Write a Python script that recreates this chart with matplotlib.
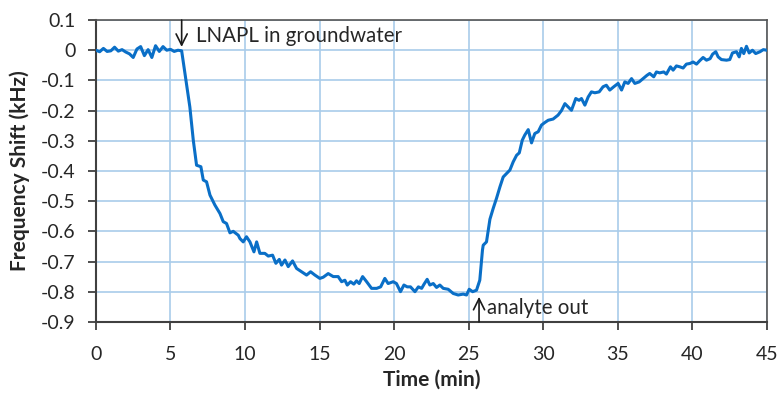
import matplotlib
matplotlib.use("Agg")
import matplotlib.pyplot as plt

# Frequency shift of the sensor over time (min, kHz)
time_min = [
    0.00, 0.25, 0.50, 0.75, 1.00, 1.25, 1.50, 1.75, 2.00, 2.25, 2.50, 2.75,
    3.00, 3.25, 3.50, 3.75, 4.00, 4.25, 4.50, 4.75, 5.00, 5.25, 5.50, 5.75,
    6.30, 6.53, 6.75, 7.04, 7.20, 7.42, 7.65, 7.98, 8.32, 8.54, 8.76, 8.99,
    9.21, 9.55, 9.66, 9.88, 10.10, 10.33, 10.60, 10.78, 11.00, 11.33, 11.56,
    11.85, 12.07, 12.30, 12.45, 12.68, 12.90, 13.19, 13.46, 13.80, 14.13,
    14.40, 14.69, 15.02, 15.25, 15.58, 15.92, 16.25, 16.48, 16.70, 16.86,
    17.08, 17.30, 17.48, 17.66, 17.89, 18.16, 18.49, 18.83, 19.10, 19.38,
    19.60, 19.94, 20.16, 20.43, 20.66, 20.88, 21.10, 21.40, 21.63, 21.85,
    22.00, 22.22, 22.40, 22.63, 22.85, 23.07, 23.30, 23.63, 23.97, 24.30,
    24.64, 24.86, 25.04, 25.27, 25.53, 25.75, 25.93, 25.98, 26.20, 26.43,
    26.65, 26.87, 27.10, 27.32, 27.54, 27.77, 27.99, 28.22, 28.40, 28.60,
    28.77, 29.00, 29.22, 29.44, 29.67, 29.89, 30.10, 30.34, 30.67, 31.00,
    31.23, 31.46, 31.68, 31.90, 32.19, 32.41, 32.57, 32.80, 33.02, 33.24,
    33.47, 33.76, 34.02, 34.24, 34.47, 34.74, 35.03, 35.26, 35.48, 35.70,
    35.93, 36.15, 36.44, 36.70, 36.97, 37.15, 37.42, 37.60, 37.82, 38.09,
    38.27, 38.54, 38.72, 38.94, 39.17, 39.39, 39.61, 39.84, 40.06, 40.29,
    40.50, 40.73, 40.96, 41.20, 41.37, 41.58, 41.74, 41.96, 42.30, 42.52,
    42.70, 42.97, 43.15, 43.30, 43.46, 43.64, 43.82, 44.04, 44.26, 44.55,
    44.77, 45.00,
]
freq_shift_khz = [
    0.000, -0.005, 0.006, -0.004, -0.002, 0.010, -0.003, 0.002, -0.006,
    -0.012, -0.024, 0.004, 0.012, -0.018, 0.002, -0.024, 0.015, -0.004,
    0.012, 0.000, 0.003, -0.004, 0.000, -0.002,
    -0.188, -0.298, -0.381, -0.386, -0.430, -0.436, -0.480, -0.513, -0.541,
    -0.568, -0.574, -0.605, -0.600, -0.613, -0.624, -0.635, -0.618, -0.635,
    -0.668, -0.635, -0.673, -0.673, -0.682, -0.679, -0.706, -0.693, -0.712,
    -0.695, -0.717, -0.698, -0.723, -0.734, -0.745, -0.734, -0.745, -0.756,
    -0.752, -0.740, -0.750, -0.750, -0.767, -0.762, -0.778, -0.767, -0.775,
    -0.764, -0.773, -0.750, -0.767, -0.789, -0.789, -0.784, -0.756, -0.773,
    -0.767, -0.773, -0.800, -0.778, -0.784, -0.784, -0.800, -0.784, -0.789,
    -0.776, -0.759, -0.778, -0.773, -0.786, -0.778, -0.789, -0.792, -0.806,
    -0.811, -0.808, -0.811, -0.792, -0.800, -0.795, -0.762, -0.662, -0.646,
    -0.635, -0.560, -0.524, -0.491, -0.453, -0.420, -0.409, -0.397, -0.370,
    -0.348, -0.340, -0.298, -0.281, -0.263, -0.307, -0.276, -0.270, -0.248,
    -0.240, -0.232, -0.228, -0.215, -0.200, -0.177, -0.188, -0.199, -0.160,
    -0.166, -0.160, -0.182, -0.155, -0.138, -0.141, -0.138, -0.121, -0.116,
    -0.132, -0.121, -0.110, -0.132, -0.105, -0.110, -0.094, -0.110, -0.105,
    -0.094, -0.083, -0.077, -0.088, -0.072, -0.075, -0.072, -0.079, -0.055,
    -0.066, -0.052, -0.055, -0.059, -0.046, -0.044, -0.039, -0.046, -0.035,
    -0.024, -0.033, -0.028, -0.013, -0.005, -0.022, -0.031, -0.033, -0.031,
    -0.009, -0.005, -0.022, 0.006, -0.011, 0.013, -0.009, 0.000, -0.011,
    -0.005, 0.002, 0.000,
]

x_ticks = [0, 5, 10, 15, 20, 25, 30, 35, 40, 45]
y_ticks = [0.1, 0, -0.1, -0.2, -0.3, -0.4, -0.5, -0.6, -0.7, -0.8, -0.9]
y_tick_labels = ["0.1", "0", "-0.1", "-0.2", "-0.3", "-0.4", "-0.5",
                 "-0.6", "-0.7", "-0.8", "-0.9"]

plt.rcParams["font.family"] = ["Lato", "DejaVu Sans"]
text_color = "#262626"

fig = plt.figure(figsize=(7.8, 3.93), dpi=100)
ax = fig.add_axes([0.123, 0.181, 0.860, 0.768])

ax.plot(time_min, freq_shift_khz, color="#0A6FC7", lw=2.2, zorder=3)

ax.set_xlim(0, 45)
ax.set_ylim(-0.9, 0.1)
ax.set_xticks(x_ticks)
ax.set_yticks(y_ticks)
ax.set_yticklabels(y_tick_labels)
ax.grid(True, color="#A9CCEA", lw=1.2, zorder=0)
ax.set_axisbelow(True)

for side in ["left", "bottom"]:
    ax.spines[side].set_color("#404040")
    ax.spines[side].set_linewidth(1.5)
for side in ["top", "right"]:
    ax.spines[side].set_color("#555555")
    ax.spines[side].set_linewidth(1.2)

ax.tick_params(axis="both", direction="out", length=5.5, width=1.3,
               color="#404040", labelsize=14, labelcolor=text_color)
ax.tick_params(axis="y", pad=9)
ax.tick_params(axis="x", pad=12)

ax.set_xlabel("Time (min)", fontsize=15, fontweight="bold",
              color=text_color, labelpad=5)
ax.set_ylabel("Frequency Shift (kHz)", fontsize=15, fontweight="bold",
              color=text_color, labelpad=8)

# Event markers
arrow_kw = dict(arrowstyle="->", color="#1a1a1a", lw=1.2,
                mutation_scale=20, shrinkA=0, shrinkB=0)
ax.annotate("", xy=(5.75, 0.011), xytext=(5.75, 0.1),
            arrowprops=arrow_kw, zorder=4)
ax.text(6.7, 0.046, "LNAPL in groundwater", fontsize=14.8,
        color=text_color, va="center", ha="left")

ax.annotate("", xy=(25.7, -0.817), xytext=(25.7, -0.9),
            arrowprops=arrow_kw, zorder=4, annotation_clip=False)
ax.text(26.25, -0.855, "analyte out", fontsize=14.8,
        color=text_color, va="center", ha="left")

fig.savefig("out.png", dpi=100)
